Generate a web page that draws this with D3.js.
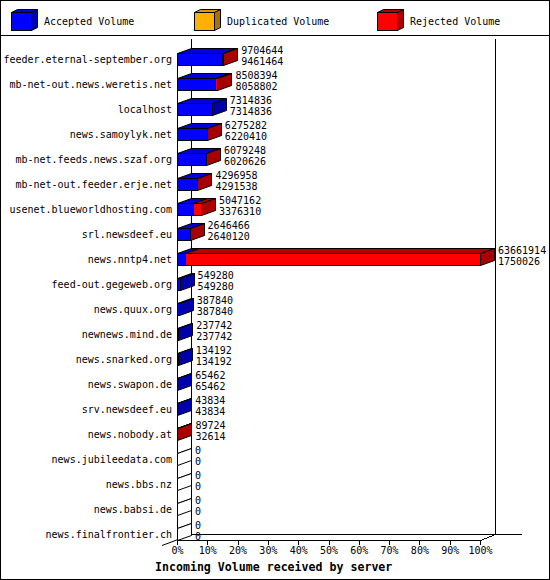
<!DOCTYPE html>
<html>
<head>
<meta charset="utf-8">
<script src="https://cdn.jsdelivr.net/npm/d3@7"></script>
<style>
  body { margin: 0; background: #fff; }
  svg text { font-family: 'DejaVu Sans Mono', monospace; font-size: 10px; fill: #000; }
</style>
</head>
<body>
<div class="graph-volume"><svg></svg></div>
<script>
const servers = [
  'feeder.eternal-september.org', 'mb-net-out.news.weretis.net', 'localhost',
  'news.samoylyk.net', 'mb-net.feeds.news.szaf.org', 'mb-net-out.feeder.erje.net',
  'usenet.blueworldhosting.com', 'srl.newsdeef.eu', 'news.nntp4.net',
  'feed-out.gegeweb.org', 'news.quux.org', 'newnews.mind.de', 'news.snarked.org',
  'news.swapon.de', 'srv.newsdeef.eu', 'news.nobody.at', 'news.jubileedata.com',
  'news.bbs.nz', 'news.babsi.de', 'news.finalfrontier.ch'
]
const totalVolume = [9704644, 8508394, 7314836, 6275282, 6079248, 4296958, 5047162, 2646466,
  63661914, 549280, 387840, 237742, 134192, 65462, 43834, 89724, 0, 0, 0, 0]
const acceptedVolume = [9461464, 8058802, 7314836, 6220410, 6020626, 4291538, 3376310, 2640120,
  1750026, 549280, 387840, 237742, 134192, 65462, 43834, 32614, 0, 0, 0, 0]
const duplicatedVolume = [0, 0, 0, 0, 0, 0, 0, 0, 0, 0, 0, 0, 0, 0, 0, 0, 0, 0, 0, 0]
const rejectedVolume = [243180, 449592, 0, 54872, 58622, 5420, 1670852, 6346,
  61911888, 0, 0, 0, 0, 0, 0, 57110, 0, 0, 0, 0]
const seriesNames = ['Accepted Volume', 'Duplicated Volume', 'Rejected Volume']
const percentTicks = [0, 10, 20, 30, 40, 50, 60, 70, 80, 90, 100]

const frontColors = ['#0000ff', '#ffb000', '#ff0000']
const topColors = ['#0000dc', '#dc9800', '#b40000']
const sideColors = ['#0000a8', '#a87400', '#a80000']

const W = 550
const H = 580
const depth = { dx: 14, dy: -5 }
const left = 177
const right = 480
const floorY = 540
const barH = 12

const svg = d3.select('.graph-volume').select('svg')
  .attr('width', W)
  .attr('height', H)

// frame
svg.append('rect')
  .attr('x', 0.5).attr('y', 0.5)
  .attr('width', W - 1).attr('height', H - 1)
  .attr('fill', '#fff').attr('stroke', '#000')
svg.append('line')
  .attr('x1', 0).attr('x2', W).attr('y1', 35.5).attr('y2', 35.5)
  .attr('stroke', '#000')

// legend
const legend = svg.append('g').attr('class', 'legend')
seriesNames.forEach(function (name, i) {
  const lx = 11 + i * 183
  const g = legend.append('g').attr('transform', 'translate(' + lx + ',12)')
  drawBox(g, 0.5, 0.5, 20, 18, 6, -3, frontColors[i], topColors[i], sideColors[i])
  g.append('text')
    .text(name)
    .attr('x', 33)
    .attr('y', 9.5)
    .attr('dominant-baseline', 'central')
})

/**
 * Draws a box with a front, a top and a side face.
 */
function drawBox (g, x, y, w, h, dx, dy, front, top, side) {
  g.append('path')
    .attr('d', 'M' + x + ',' + y + 'L' + (x + dx) + ',' + (y + dy) + 'L' + (x + w + dx) + ',' + (y + dy) + 'L' + (x + w) + ',' + y + 'Z')
    .attr('fill', top).attr('stroke', '#000')
  g.append('path')
    .attr('d', 'M' + (x + w) + ',' + y + 'L' + (x + w + dx) + ',' + (y + dy) + 'L' + (x + w + dx) + ',' + (y + h + dy) + 'L' + (x + w) + ',' + (y + h) + 'Z')
    .attr('fill', side).attr('stroke', '#000')
  g.append('rect')
    .attr('x', x).attr('y', y).attr('width', w).attr('height', h)
    .attr('fill', front).attr('stroke', '#000')
}

// scales
const xScale = d3.scaleLinear().domain([0, d3.max(totalVolume)]).range([left, right])
const pctScale = d3.scaleLinear().domain([0, 100]).range([left, right])
const yScale = d3.scaleBand().domain(servers).range([46.5, 546.5])

const plot = svg.append('g').attr('class', 'plot').attr('shape-rendering', 'crispEdges')

// back walls and floor
const backLeft = left + depth.dx
const backRight = right + depth.dx + 1
const backFloor = floorY + depth.dy - 1
plot.append('path')
  .attr('d', 'M' + (backLeft + 0.5) + ',39 V' + (backFloor + 0.5) + ' H522')
  .attr('fill', 'none').attr('stroke', '#000')
plot.append('path')
  .attr('d', 'M' + (backRight + 0.5) + ',39 V' + (backFloor + 0.5))
  .attr('fill', 'none').attr('stroke', '#000')
plot.append('path')
  .attr('d', 'M' + (left + 0.5) + ',' + (yScale(servers[0]) + yScale.bandwidth() / 2 - barH / 2) + ' V' + (floorY + 0.5) + ' H' + (right + 0.5) +
    ' L' + (backRight + 0.5) + ',' + (backFloor + 0.5))
  .attr('fill', 'none').attr('stroke', '#000')
plot.append('line')
  .attr('x1', left - 15).attr('y1', floorY + 5.5)
  .attr('x2', backLeft + 0.5).attr('y2', backFloor + 0.5)
  .attr('stroke', '#000').attr('shape-rendering', 'auto')

// x axis
const xAxis = plot.append('g')
  .attr('class', 'x axis')
  .attr('transform', 'translate(0,' + floorY + ')')
  .call(d3.axisBottom(pctScale).tickValues(percentTicks).tickSize(5).tickPadding(2).tickFormat(d => d + '%'))
xAxis.select('.domain').remove()
xAxis.selectAll('text').attr('font-family', null).attr('font-size', null)

// bars
const rows = servers.map(function (s, i) {
  return {
    name: s,
    total: totalVolume[i],
    accepted: acceptedVolume[i],
    segments: [acceptedVolume[i], duplicatedVolume[i], rejectedVolume[i]]
  }
})

rows.forEach(function (r) {
  const cy = yScale(r.name) + yScale.bandwidth() / 2
  const y0 = Math.round(cy - barH / 2) + 0.5
  const g = plot.append('g').attr('class', 'bar')
  let start = 0
  let last = -1
  const parts = []
  r.segments.forEach(function (v, k) {
    if (v > 0) {
      parts.push({ x0: Math.round(xScale(start)) + 0.5, x1: Math.round(xScale(start + v)) + 0.5, k: k })
      last = k
    }
    start += v
  })
  const xEnd = Math.round(xScale(r.total)) + 0.5
  // top faces
  parts.forEach(function (p) {
    g.append('path')
      .attr('d', 'M' + p.x0 + ',' + y0 + 'L' + (p.x0 + depth.dx) + ',' + (y0 + depth.dy) + 'L' + (p.x1 + depth.dx) + ',' + (y0 + depth.dy) + 'L' + p.x1 + ',' + y0 + 'Z')
      .attr('fill', topColors[p.k]).attr('stroke', '#000').attr('shape-rendering', 'auto')
  })
  if (parts.length === 0) {
    g.append('path')
      .attr('d', 'M' + xEnd + ',' + y0 + 'L' + (xEnd + depth.dx) + ',' + (y0 + depth.dy))
      .attr('stroke', '#000').attr('shape-rendering', 'auto')
  }
  // side face
  g.append('path')
    .attr('d', 'M' + xEnd + ',' + y0 + 'L' + (xEnd + depth.dx) + ',' + (y0 + depth.dy) + 'L' + (xEnd + depth.dx) + ',' + (y0 + barH + depth.dy) + 'L' + xEnd + ',' + (y0 + barH) + 'Z')
    .attr('fill', last >= 0 ? sideColors[last] : '#fff').attr('stroke', '#000').attr('shape-rendering', 'auto')
  // front faces
  parts.forEach(function (p) {
    g.append('rect')
      .attr('x', p.x0).attr('y', y0)
      .attr('width', p.x1 - p.x0).attr('height', barH)
      .attr('fill', frontColors[p.k]).attr('stroke', '#000')
  })
  // value labels
  g.append('text')
    .text(r.total)
    .attr('x', xScale(r.total) + 18)
    .attr('y', cy - 9)
    .attr('dominant-baseline', 'central')
  g.append('text')
    .text(r.accepted)
    .attr('x', xScale(r.total) + 18)
    .attr('y', cy + 2)
    .attr('dominant-baseline', 'central')
})

// server labels
svg.append('g').attr('class', 'y labels')
  .selectAll('text')
  .data(servers)
  .join('text')
  .text(d => d)
  .attr('x', 172)
  .attr('y', d => yScale(d) + yScale.bandwidth() / 2)
  .attr('text-anchor', 'end')
  .attr('dominant-baseline', 'central')

svg.append('text')
  .text('Incoming Volume received by server')
  .attr('x', 155)
  .attr('y', 567)
  .attr('dominant-baseline', 'central')
  .style('font-weight', 'bold')
  .style('font-size', '11.6px')
</script>
</body>
</html>
